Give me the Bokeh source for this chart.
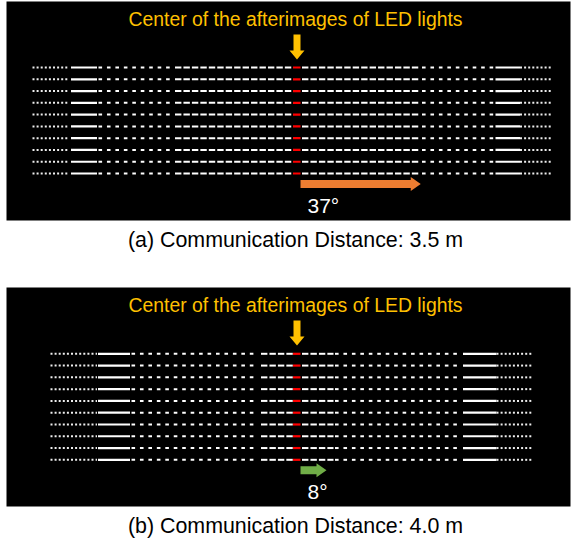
import numpy as np
from bokeh.plotting import figure
from bokeh.models import Range1d
from bokeh.core.properties import value
from bokeh.embed import file_html
from bokeh.resources import INLINE

# ---- data -------------------------------------------------------------
captions = ["(a) Communication Distance: 3.5 m", "(b) Communication Distance: 4.0 m"]
shift_labels = ["37°", "8°"]
shift_deg = [37, 8]
shift_colors = ["#ED7D31", "#70AD47"]
title_text = "Center of the afterimages of LED lights"

# afterimage zones along each LED row (horizontal image position, px)
zones = ["dots", "solid", "short", "long", "center", "long", "short", "solid", "dots"]
zone_edges_a = [32, 69.5, 96.5, 173, 292.5, 300, 420, 494, 519.5, 553]
zone_edges_b = [50, 96.5, 129.5, 259, 292.5, 300, 333, 461.5, 496, 533]
n_rows = 10

# ---- layout -----------------------------------------------------------
W, H = 575, 542
panel_x = (6, 570)
panel_tops = [1, 287]
panel_bottoms = [220, 506]
row_first = [67.0, 353.3]
row_step = 11.78
px_per_deg = 3.25
FONT = value("Liberation Sans")

# dash geometry per zone: (dash length, period); None = continuous
dash_geom = {"dots": (2, 4.1), "solid": None, "short": (3.6, 8.45),
             "long": (6.4, 8.45), "center": None}
zone_color = {"dots": "#eeeeee", "solid": "white", "short": "white",
              "long": "white", "center": "#FF0000"}
zone_width = {"dots": 2, "solid": 2.2, "short": 2, "long": 2, "center": 2.2}
gap = {"dots": 0, "solid": 1, "short": 1.5, "long": 1.5, "center": 0}

p = figure(width=W, height=H, x_range=Range1d(0, W), y_range=Range1d(H, 0),
           output_backend="svg", toolbar_location=None, min_border=0,
           x_axis_location=None, y_axis_location=None)
p.grid.visible = False
p.outline_line_color = None
p.background_fill_color = "white"
p.border_fill_color = "white"

# black panels
p.quad(left=[panel_x[0]] * 2, right=[panel_x[1]] * 2,
       top=panel_tops, bottom=panel_bottoms, fill_color="black", line_color=None)

for k, edges in enumerate([zone_edges_a, zone_edges_b]):
    ys = [row_first[k] + i * row_step for i in range(n_rows)]
    for z, name in enumerate(zones):
        a = edges[z] + gap[name]
        b = edges[z + 1]
        geom = dash_geom[name]
        if geom is None:
            starts, ends = np.array([a]), np.array([b])
        else:
            dl, per = geom
            starts = np.arange(a, b - dl * 0.5, per)
            ends = np.minimum(starts + dl, b)
        X0 = np.tile(starts, n_rows)
        X1 = np.tile(ends, n_rows)
        Y = np.repeat(ys, len(starts))
        p.segment(x0=X0, y0=Y, x1=X1, y1=Y, line_color=zone_color[name],
                  line_width=zone_width[name], line_cap="butt")

    top = panel_tops[k]
    cx = 296.5
    # title
    p.text(x=[295], y=[top + 17], text=[title_text], text_font=FONT,
           text_font_size="19.4px", text_color="#FFC000", text_align="center",
           text_baseline="alphabetic")
    # downward arrow marking the centre
    a0, tip = top + 33, top + 58
    hl, sh, hh = 9, 3.5, 7.5
    p.patch(x=[cx - sh, cx + sh, cx + sh, cx + hh, cx, cx - hh, cx - sh],
            y=[a0, a0, tip - hl, tip - hl, tip, tip - hl, tip - hl],
            fill_color="#FFC000", line_color=None)
    # shift arrow
    x0 = 300
    L = shift_deg[k] * px_per_deg
    yc = row_first[k] + (n_rows - 1) * row_step + 10.5
    sh, hh, hl = 4, 7, 10
    p.patch(x=[x0, x0 + L - hl, x0 + L - hl, x0 + L, x0 + L - hl, x0 + L - hl, x0],
            y=[yc - sh, yc - sh, yc - hh, yc, yc + hh, yc + sh, yc + sh],
            fill_color=shift_colors[k], line_color=None)
    p.text(x=[307], y=[yc + 21], text=[shift_labels[k]], text_font=FONT,
           text_font_size="21px", text_color="white", text_align="left",
           text_baseline="alphabetic")
    # caption below panel
    p.text(x=[295], y=[panel_bottoms[k] + 19], text=[captions[k]],
           text_font=FONT, text_font_size="21.4px",
           text_color="black", text_align="center", text_baseline="alphabetic")

open("out.html", "w").write(file_html(p, INLINE))
